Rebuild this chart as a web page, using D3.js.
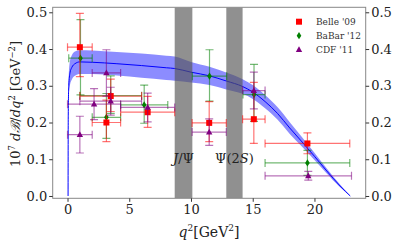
<!DOCTYPE html>
<html><head><meta charset="utf-8">
<script src="https://cdn.jsdelivr.net/npm/d3@7"></script>
<style>body{margin:0;background:#fff} svg{display:block}</style>
</head><body>
<svg id="c" width="399" height="247"></svg>
<script>
// ---- theory curve ----
const curveQ2 = [0.045, 0.06, 0.1, 0.2, 0.35, 0.6, 1, 2, 4, 6, 8, 8.68, 10, 11.5, 12.86, 14.18, 15, 16, 17, 18, 19, 20, 21, 22, 22.5, 22.9];
const curveMid = [0, 0.22, 0.30, 0.335, 0.35, 0.36, 0.365, 0.364, 0.360, 0.355, 0.349, 0.347, 0.337, 0.327, 0.313, 0.298, 0.283, 0.257, 0.225, 0.185, 0.147, 0.108, 0.068, 0.030, 0.013, 0];
const curveHi  = [0, 0.24, 0.33, 0.368, 0.383, 0.393, 0.397, 0.396, 0.392, 0.388, 0.382, 0.380, 0.365, 0.352, 0.336, 0.318, 0.302, 0.275, 0.242, 0.201, 0.160, 0.118, 0.075, 0.034, 0.015, 0];
const curveLo  = [0, 0.20, 0.27, 0.302, 0.317, 0.327, 0.332, 0.332, 0.328, 0.322, 0.316, 0.314, 0.309, 0.302, 0.290, 0.278, 0.264, 0.239, 0.208, 0.169, 0.134, 0.098, 0.061, 0.026, 0.011, 0];

// ---- resonance vetoes ----
const vetoLo = [8.68, 12.86];
const vetoHi = [10.11, 14.18];
const vetoLabels = ["J/Ψ", "Ψ(2S)"];

// ---- Belle '09 ----
const belleX0 = [0, 2, 4.3, 10.09, 14.18, 16, 1];
const belleX1 = [2, 4.3, 8.68, 12.86, 16, 22.86, 6];
const belleVal = [0.405, 0.200, 0.228, 0.199, 0.209, 0.143, 0.272];
const belleUp = [0.092, 0.061, 0.043, 0.058, 0.100, 0.029, 0.046];
const belleDn = [0.080, 0.052, 0.041, 0.051, 0.066, 0.028, 0.042];

// ---- BaBar '12 ----
const babarX0 = [0.1, 2, 4.3, 10.11, 14.21, 16, 1];
const babarX1 = [2, 4.3, 8.12, 12.89, 16, 22.86, 6];
const babarVal = [0.375, 0.214, 0.248, 0.326, 0.276, 0.090, 0.273];
const babarUp = [0.105, 0.065, 0.054, 0.072, 0.082, 0.034, 0.054];
const babarDn = [0.100, 0.057, 0.050, 0.068, 0.073, 0.034, 0.048];

// ---- CDF '11 ----
const cdfX0 = [0, 2, 4.3, 10.09, 14.18, 16, 0, 1];
const cdfX1 = [2, 4.3, 8.68, 12.86, 16, 23, 4.3, 6];
const cdfVal = [0.167, 0.335, 0.241, 0.174, 0.287, 0.055, 0.250, 0.258];
const cdfUp = [0.050, 0.063, 0.039, 0.036, 0.050, 0.012, 0.042, 0.038];
const cdfDn = [0.050, 0.063, 0.039, 0.036, 0.050, 0.012, 0.042, 0.038];

const xTicks = [0, 5, 10, 15, 20];
const yTicks = [0.0, 0.1, 0.2, 0.3, 0.4, 0.5];
const legendNames = ["Belle '09", "BaBar '12", "CDF '11"];

// ---- layout ----
const M = {l: 52.7, r: 365.7, t: 7.3, b: 198.3};
const x = d3.scaleLinear().domain([-1.2, 24.15]).range([M.l, M.r]);
const y = d3.scaleLinear().domain([-0.0063, 0.5136]).range([M.b, M.t]);
const svg = d3.select('#c');
const FONT = "'DejaVu Serif', serif";

const plot = svg.append('g');
plot.append('clipPath').attr('id','clip').append('rect')
  .attr('x', M.l).attr('y', M.t).attr('width', M.r - M.l).attr('height', M.b - M.t);
const g = plot.append('g').attr('clip-path','url(#clip)');

// band + line
const idx = d3.range(curveQ2.length);
g.append('path').datum(idx)
  .attr('d', d3.area().x(i => x(curveQ2[i])).y0(i => y(curveLo[i])).y1(i => y(curveHi[i])).curve(d3.curveMonotoneX))
  .attr('fill', 'rgba(0,0,255,0.45)');
g.append('path').datum(idx)
  .attr('d', d3.line().x(i => x(curveQ2[i])).y(i => y(curveMid[i])).curve(d3.curveMonotoneX))
  .attr('fill', 'none').attr('stroke', '#0000ff').attr('stroke-width', 1);

// veto bands
vetoLo.forEach((lo, i) => {
  g.append('rect').attr('x', x(lo)).attr('y', M.t).attr('width', x(vetoHi[i]) - x(lo)).attr('height', M.b - M.t)
    .attr('fill', '#555').attr('fill-opacity', 0.65);
});

// data series
function series(X0, X1, V, U, D, color, shape) {
  const cap = 4;
  V.forEach((v, i) => {
    const xc = x((X0[i] + X1[i]) / 2), yc = y(v);
    const eb = g.append('g').attr('stroke', color).attr('stroke-opacity', 0.55).attr('stroke-width', 1.2).attr('fill','none');
    eb.append('line').attr('x1', x(X0[i])).attr('x2', x(X1[i])).attr('y1', yc).attr('y2', yc);
    eb.append('line').attr('x1', x(X0[i])).attr('x2', x(X0[i])).attr('y1', yc - cap).attr('y2', yc + cap);
    eb.append('line').attr('x1', x(X1[i])).attr('x2', x(X1[i])).attr('y1', yc - cap).attr('y2', yc + cap);
    eb.append('line').attr('x1', xc).attr('x2', xc).attr('y1', y(v + U[i])).attr('y2', y(v - D[i]));
    eb.append('line').attr('x1', xc - cap).attr('x2', xc + cap).attr('y1', y(v + U[i])).attr('y2', y(v + U[i]));
    eb.append('line').attr('x1', xc - cap).attr('x2', xc + cap).attr('y1', y(v - D[i])).attr('y2', y(v - D[i]));
  });
  V.forEach((v, i) => marker(g, x((X0[i] + X1[i]) / 2), y(v), color, shape));
}
function marker(sel, cx, cy, color, shape) {
  if (shape === 'square') {
    sel.append('rect').attr('x', cx - 3).attr('y', cy - 3).attr('width', 6).attr('height', 6).attr('fill', color);
  } else if (shape === 'diamond') {
    sel.append('path').attr('d', `M${cx},${cy-3.6}L${cx+2.3},${cy}L${cx},${cy+3.6}L${cx-2.3},${cy}Z`).attr('fill', color);
  } else {
    sel.append('path').attr('d', `M${cx},${cy-3.4}L${cx+3.2},${cy+2.4}L${cx-3.2},${cy+2.4}Z`).attr('fill', color);
  }
}
series(babarX0, babarX1, babarVal, babarUp, babarDn, '#008000', 'diamond');
series(belleX0, belleX1, belleVal, belleUp, belleDn, '#ff0000', 'square');
series(cdfX0, cdfX1, cdfVal, cdfUp, cdfDn, '#800080', 'triangle');

// veto labels
vetoLo.forEach((lo, i) => {
  const t = svg.append('text').attr('x', x((lo + vetoHi[i]) / 2)).attr('y', 163)
    .attr('text-anchor', 'middle').attr('font-family', FONT).attr('font-size', 13).attr('fill', '#222');
  if (i === 0) { t.append('tspan').attr('font-style','italic').text('J'); t.append('tspan').text('/Ψ'); }
  else { t.append('tspan').text('Ψ(2'); t.append('tspan').attr('font-style','italic').text('S'); t.append('tspan').text(')'); }
});

// frame
svg.append('rect').attr('x', M.l).attr('y', M.t).attr('width', M.r - M.l).attr('height', M.b - M.t)
  .attr('fill', 'none').attr('stroke', '#888').attr('stroke-width', 1);

// axes
function styleAxis(a) {
  a.select('.domain').remove();
  a.selectAll('line').attr('stroke', '#333');
  a.selectAll('text').attr('font-family', FONT).attr('font-size', 13).attr('fill', '#222');
}
svg.append('g').attr('transform', `translate(${M.l},0)`)
  .call(d3.axisLeft(y).tickValues(yTicks).tickFormat(d3.format('.1f')).tickSize(3.5).tickPadding(2)).call(styleAxis);
svg.append('g').attr('transform', `translate(${M.r},0)`)
  .call(d3.axisRight(y).tickValues(yTicks).tickFormat(d3.format('.1f')).tickSize(3.5).tickPadding(2)).call(styleAxis);
svg.append('g').attr('transform', `translate(0,${M.b})`)
  .call(d3.axisBottom(x).tickValues(xTicks).tickFormat(d3.format('d')).tickSize(3.5).tickPadding(3)).call(styleAxis);

// axis labels
const xl = svg.append('text').attr('x', 209).attr('y', 237).attr('text-anchor', 'middle')
  .attr('font-family', FONT).attr('font-size', 14).attr('fill', '#222');
xl.append('tspan').attr('font-style', 'italic').text('q');
xl.append('tspan').attr('font-size', 9).attr('dy', -6).text('2');
xl.append('tspan').attr('dy', 6).text('[GeV');
xl.append('tspan').attr('font-size', 9).attr('dy', -6).text('2');
xl.append('tspan').attr('dy', 6).text(']');

const yl = svg.append('text').attr('transform', 'translate(20,104) rotate(-90)').attr('text-anchor', 'middle')
  .attr('font-family', FONT).attr('font-size', 13).attr('fill', '#222');
yl.append('tspan').text('10');
yl.append('tspan').attr('font-size', 8.5).attr('dy', -5).text('7');
yl.append('tspan').attr('dy', 5).attr('font-style', 'italic').text(' d');
yl.append('tspan').attr('font-style', 'italic').text('ℬ');
yl.append('tspan').text('/');
yl.append('tspan').attr('font-style', 'italic').text('dq');
yl.append('tspan').attr('font-size', 8.5).attr('dy', -5).text('2');
yl.append('tspan').attr('dy', 5).text(' [GeV');
yl.append('tspan').attr('font-size', 8.5).attr('dy', -5).text('−2');
yl.append('tspan').attr('dy', 5).text(']');

// legend
const legColors = ['#ff0000', '#008000', '#800080'];
const legShapes = ['square', 'diamond', 'triangle'];
legendNames.forEach((n, i) => {
  const cy = 21.7 + i * 14;
  marker(svg, 299, cy, legColors[i], legShapes[i]);
  svg.append('text').attr('x', 316).attr('y', cy + 3.5).attr('font-family', FONT).attr('font-size', 9)
    .attr('fill', '#333').text(n);
});
</script>
</body></html>
